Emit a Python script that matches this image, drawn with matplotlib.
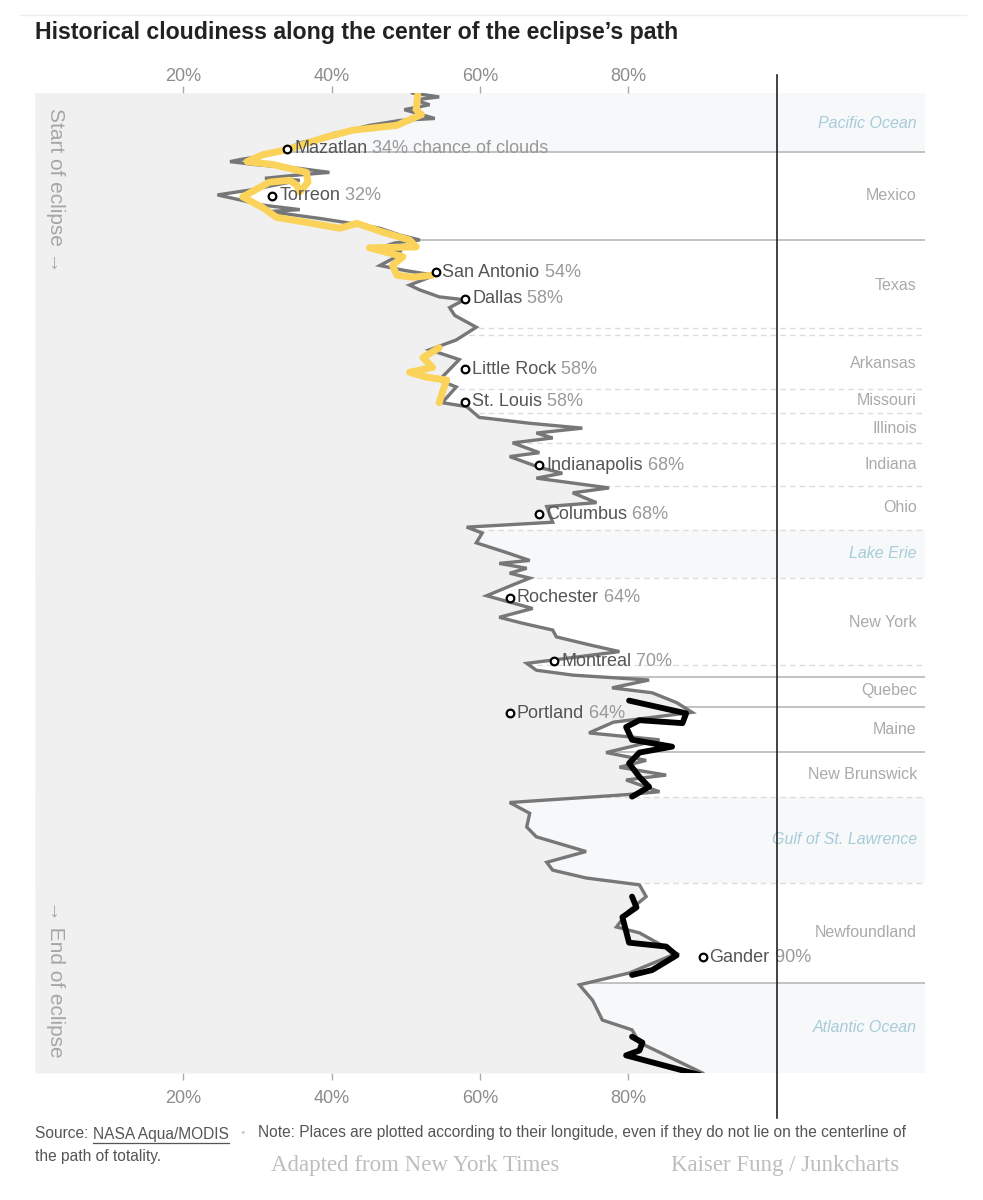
import numpy as np
import matplotlib.pyplot as plt
from matplotlib.lines import Line2D

# position along the path: 0 = start of eclipse (top), 100 = end (bottom)
path_pos = [0, 0.4, 0.7, 1.2, 1.7, 2.6, 2.8, 3.3, 3.8, 4.1, 4.6, 5.1, 5.6, 6.3, 6.8, 7.0,
            7.3, 7.7, 8.1, 8.4, 8.7, 8.9, 9.9, 10.4, 10.9, 11.4, 11.9, 12.1, 12.8, 13.2,
            13.8, 14.5, 15.0, 15.3, 15.8, 16.2, 16.8, 17.6, 18.1, 18.6, 19.6, 20.1, 20.8,
            21.1, 21.9, 22.7, 23.9, 25.2, 26.2, 27.2, 29.3, 30.0, 31.6, 32.0, 33.1, 33.7,
            34.2, 34.7, 35.2, 35.7, 36.7, 37.1, 38.2, 38.8, 39.3, 40.3, 40.8, 41.8, 42.2,
            43.8, 44.3, 44.9, 45.9, 46.9, 47.7, 48.0, 48.5, 49.0, 49.5, 50.2, 51.3, 52.6,
            53.5, 54.1, 54.8, 55.5, 56.3, 57.0, 58.2, 58.9, 59.4, 59.9, 60.7, 61.2, 62.2,
            63.2, 64.2, 65.3, 66.0, 67.3, 68.1, 68.8, 69.6, 70.1, 71.3, 71.6, 72.4, 73.5,
            74.9, 75.9, 77.4, 78.5, 79.3, 80.1, 80.8, 82.0, 83.5, 85.1, 85.7, 87.8, 89.8,
            91.0, 92.6, 94.6, 95.6, 96.9, 100]
cloud_pct = [50.9, 54.5, 51.2, 53.2, 49.8, 53.9, 49.2, 45.1, 42.4, 40.4, 38.4, 35.7, 34.3,
             31.6, 27.6, 26.3, 29.6, 35.7, 39.7, 35.0, 31.0, 35.7, 29.0, 24.6, 27.6, 30.3,
             35.7, 31.6, 38.4, 41.8, 46.5, 49.2, 51.9, 48.5, 46.5, 49.2, 48.5, 46.5, 49.8,
             53.9, 50.5, 51.9, 54.5, 57.9, 55.9, 56.6, 59.5, 56.8, 53.2, 57.2, 54.5, 56.8,
             54.9, 58.2, 59.9, 66.7, 73.8, 67.6, 69.8, 64.4, 68.0, 64.0, 68.0, 71.1, 67.6,
             77.4, 72.5, 75.7, 69.0, 69.8, 58.2, 60.3, 59.5, 63.6, 66.7, 62.6, 66.3, 64.0,
             66.7, 64.4, 60.9, 67.1, 62.6, 65.7, 69.8, 70.3, 74.7, 78.8, 66.3, 67.6, 72.5,
             82.8, 77.8, 83.2, 86.5, 88.6, 78.0, 74.7, 84.2, 77.0, 82.4, 78.8, 85.1, 79.7,
             84.2, 79.7, 64.0, 66.7, 66.3, 67.6, 74.3, 69.0, 69.8, 74.3, 81.5, 82.4, 80.0,
             78.4, 81.5, 86.5, 80.1, 73.4, 75.2, 76.5, 80.5, 81.5, 90.0]

# hand-drawn highlights (yellow = clearest skies, black = cloudiest)
yellow1_pos = [0.2, 1.7, 2.2, 3.3, 3.8, 4.6, 5.8, 6.3, 7.0, 7.3, 8.1, 9.1, 10.1, 9.4, 8.9,
               9.1, 10.6, 11.7, 12.7, 13.2, 13.8, 13.3, 14.2, 15.0, 15.7, 15.8, 16.7, 17.6,
               18.6, 18.8, 18.6]
yellow1_pct = [51.6, 51.4, 52.1, 48.8, 42.8, 38.8, 33.9, 30.7, 28.6, 32.1, 36.6, 36.8, 35.7,
               35.3, 34.3, 31.6, 28.0, 30.7, 32.6, 36.6, 41.1, 43.4, 46.9, 50.5, 51.4, 45.1,
               49.6, 48.2, 48.8, 50.9, 53.6]
yellow2_pos = [26.0, 27.0, 28.0, 28.5, 29.0, 29.3, 30.6, 31.6]
yellow2_pct = [54.5, 52.3, 53.6, 50.5, 52.8, 55.5, 54.9, 54.5]
black1_pos = [62.0, 63.3, 64.3, 64.0, 64.7, 66.0, 66.7, 67.3, 68.4, 69.8, 70.8, 71.8]
black1_pct = [80.1, 87.8, 87.3, 81.5, 79.7, 80.5, 85.9, 81.5, 80.1, 81.5, 82.8, 80.5]
black2_pos = [82.0, 83.1, 84.1, 86.7, 87.1, 88.0, 89.5, 90.0]
black2_pct = [80.5, 81.1, 79.2, 80.1, 85.1, 86.5, 83.2, 80.5]
black3_pos = [96.3, 96.9, 97.7, 98.2, 100.2]
black3_pct = [80.5, 81.9, 81.5, 79.7, 89.6]

cities = ["Mazatlan", "Torreon", "San Antonio", "Dallas", "Little Rock", "St. Louis",
          "Indianapolis", "Columbus", "Rochester", "Montreal", "Portland", "Gander"]
city_pct = [34, 32, 54, 58, 58, 58, 68, 68, 64, 70, 64, 90]
city_pos = [5.7, 10.5, 18.3, 21.0, 28.2, 31.5, 38.0, 43.0, 51.5, 58.0, 63.3, 88.2]

regions = ["Pacific Ocean", "Mexico", "Texas", "Arkansas", "Missouri", "Illinois", "Indiana",
           "Ohio", "Lake Erie", "New York", "Quebec", "Maine", "New Brunswick",
           "Gulf of St. Lawrence", "Newfoundland", "Atlantic Ocean"]
region_pos = [3.1, 10.5, 19.6, 27.6, 31.4, 34.2, 37.9, 42.3, 47.0, 54.0, 61.0, 64.9, 69.5,
              76.2, 85.7, 95.4]
water = ["Pacific Ocean", "Lake Erie", "Gulf of St. Lawrence", "Atlantic Ocean"]
water_bands = [(0, 6.0), (44.6, 49.5), (71.8, 80.6), (90.8, 100)]
solid_borders = [6.0, 15.0, 59.6, 62.7, 67.2, 90.8]
dashed_borders = [24.0, 24.7, 30.2, 32.7, 35.7, 40.1, 44.6, 49.5, 58.4, 71.8, 80.6]

ticks = [20, 40, 60, 80]

W, H = 983, 1200
plain = ['Liberation Sans', 'DejaVu Sans']
serif = ['Liberation Serif', 'DejaVu Serif']

fig = plt.figure(figsize=(W / 100, H / 100), dpi=100)
ax = fig.add_axes([35 / W, 1 - 1073 / H, 890 / W, 980 / H])


def fx(x):
    return x / W


def fy(y):
    return 1 - y / H


for a, b in water_bands:
    ax.axhspan(a, b, color='#f6f8fa', lw=0, zorder=0)
ax.hlines(solid_borders, 10, 120, color='#bdbdbd', lw=1.3, zorder=1)
ax.hlines(dashed_borders, 10, 120, color='#dcdcdc', lw=1, linestyles=(0, (4, 3)), zorder=1)

ax.fill_betweenx(path_pos, 0, cloud_pct, color='#f0f0f0', lw=0, zorder=2)
ax.plot(cloud_pct, path_pos, color='#777777', lw=2.4, zorder=3, solid_joinstyle='miter')

for p, c in [(yellow1_pos, yellow1_pct), (yellow2_pos, yellow2_pct)]:
    ax.plot(c, p, color='#fbd35a', lw=5, zorder=4, solid_capstyle='round',
            solid_joinstyle='round')
for p, c in [(black1_pos, black1_pct), (black2_pos, black2_pct), (black3_pos, black3_pct)]:
    ax.plot(c, p, color='black', lw=4.2, zorder=4, solid_capstyle='round',
            solid_joinstyle='round')

ax.plot(city_pct, city_pos, 'o', ms=5.5, mfc='white', mec='black', mew=1.6, zorder=6)
for i, name in enumerate(cities):
    t = ax.annotate(name, (city_pct[i], city_pos[i]), xytext=(5, 0),
                    textcoords='offset points', ha='left', va='center',
                    fontsize=13, color='#555555', family=plain, zorder=5)
    extra = f" {city_pct[i]}%" + (" chance of clouds" if i == 0 else "")
    ax.annotate(extra, xy=(1, 0), xycoords=t, ha='left', va='bottom',
                fontsize=13, color='#999999', family=plain, zorder=5)

for name, p in zip(regions, region_pos):
    if name in water:
        ax.text(118.9, p, name, ha='right', va='center', fontsize=11.5,
                color='#a8ccd8', style='italic', family=plain, zorder=5)
    else:
        ax.text(118.9, p, name, ha='right', va='center', fontsize=11.5,
                color='#aaaaaa', family=plain, zorder=5)

ax.axvline(100, ymin=-0.046, ymax=1.018, color='#222222', lw=1.2, clip_on=False, zorder=7)

ax.set_xlim(0, 120)
ax.set_ylim(100, 0)
ax.set_yticks([])
ax.set_xticks(ticks)
ax.set_xticklabels([f"{t}%" for t in ticks], family=plain)
ax.tick_params(axis='x', length=5, width=1, color='#aaaaaa', labelcolor='#8c8c8c',
               labelsize=13, pad=7)
top = ax.secondary_xaxis('top')
top.set_xticks(ticks)
top.set_xticklabels([f"{t}%" for t in ticks], family=plain)
top.tick_params(axis='x', length=5, width=1, color='#aaaaaa', labelcolor='#8c8c8c',
                labelsize=13, pad=1)
for s in list(ax.spines.values()) + list(top.spines.values()):
    s.set_visible(False)

# vertical notes at the left
fig.text(fx(55), fy(108), "Start of eclipse \u2192", rotation=270, ha='center', va='top',
         fontsize=15, color='#a6a6a6', family=plain)
fig.text(fx(55), fy(1058), "\u2192 End of eclipse", rotation=270, ha='center',
         va='bottom', fontsize=15, color='#a6a6a6', family=plain)

# title and top rule
fig.add_artist(Line2D([fx(20), fx(966)], [fy(15), fy(15)], color='#eeeeee', lw=1))
fig.text(fx(35), fy(33), "Historical cloudiness along the center of the eclipse\u2019s path",
         ha='left', va='center', fontsize=16.7, weight='bold', color='#222222', family=plain)

# footer
foot = dict(fontsize=11.2, color='#555555', family=plain)
s1 = fig.text(fx(35), fy(1133), "Source: ", ha='left', va='center', **foot)
src = fig.text(0, 0, "NASA Aqua/MODIS", ha='left', va='baseline', **foot)
fig.text(fx(243), fy(1133), "\u2022", ha='center', fontsize=8, color='#cccccc', va='center')
fig.text(fx(258), fy(1133),
         "Note: Places are plotted according to their longitude, even if they do not lie on the centerline of",
         ha='left', va='center', **foot)
fig.text(fx(35), fy(1157), "the path of totality.", ha='left', va='center', **foot)
fig.text(fx(415), fy(1165), "Adapted from New York Times", ha='center', va='center',
         fontsize=16.5, color='#bdbdbd', family=serif)
fig.text(fx(785), fy(1165), "Kaiser Fung / Junkcharts", ha='center', va='center',
         fontsize=16.5, color='#bdbdbd', family=serif)

fig.canvas.draw()
b1 = s1.get_window_extent()
src.set_position((b1.x1 / W, fy(1133) - 5.5 / H))
fig.canvas.draw()
bb = src.get_window_extent()
ul_y = bb.y0 - 1
fig.add_artist(Line2D([bb.x0 / W, bb.x1 / W], [ul_y / H, ul_y / H], color='#555555', lw=0.9))

fig.savefig('out.png', dpi=100)
